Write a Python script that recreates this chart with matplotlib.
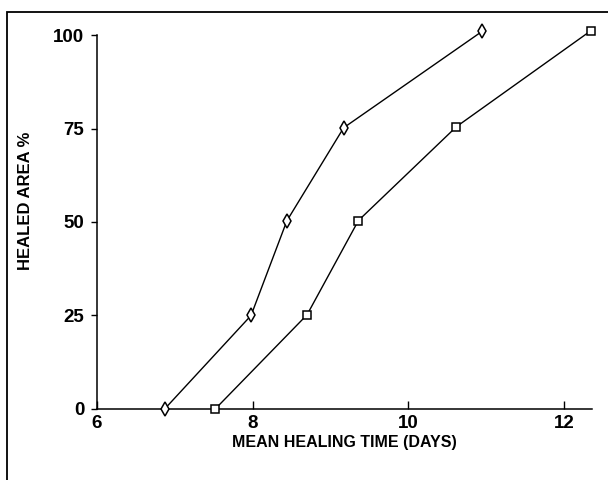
import matplotlib.pyplot as plt
from matplotlib.patches import Rectangle

# healing time (days) vs healed area (%)
days_diamond = [6.87, 7.98, 8.44, 9.17, 10.95]
area_diamond = [0, 25, 50.3, 75.2, 101]
days_square = [7.52, 8.70, 9.36, 10.62, 12.35]
area_square = [0, 25.2, 50.4, 75.5, 101.2]

x_ticks = [6, 8, 10, 12]
y_ticks = [0, 25, 50, 75, 100]

plt.rcParams['font.family'] = ['Liberation Sans', 'DejaVu Sans']
plt.rcParams['font.weight'] = 'bold'

fig = plt.figure(figsize=(6.08, 4.8), dpi=100)
ax = fig.add_axes([0.1595, 0.148, 0.814, 0.779])

# scanned frame around the figure
fig.patches.append(Rectangle((0.012, -0.1), 1.1, 1.075, transform=fig.transFigure,
                             fill=False, edgecolor='black', linewidth=1.3))

ax.plot(days_diamond, area_diamond, color='black', linewidth=1,
        marker='d', markersize=7, markerfacecolor='white', markeredgecolor='black',
        markeredgewidth=1.1, clip_on=False, zorder=3)
ax.plot(days_square, area_square, color='black', linewidth=1,
        marker='s', markersize=5.5, markerfacecolor='white', markeredgecolor='black',
        markeredgewidth=1.1, clip_on=False, zorder=3)

ax.set_xlim(6, 12.36)
ax.set_ylim(0, 100)
ax.set_xticks(x_ticks)
ax.set_yticks(y_ticks)
ax.spines['top'].set_visible(False)
ax.spines['right'].set_visible(False)
ax.spines['left'].set_linewidth(1.1)
ax.spines['bottom'].set_linewidth(1.1)
ax.tick_params(axis='x', direction='in', length=6, width=1, pad=4, labelsize=13.5)
ax.tick_params(axis='y', direction='out', length=4, width=1, pad=5, labelsize=13.5)

ax.set_xlabel('MEAN HEALING TIME (DAYS)', fontsize=11.5, fontweight='bold')
ax.set_ylabel('HEALED AREA %', fontsize=12, fontweight='bold')
ax.xaxis.set_label_coords(0.5, -0.07)
ax.yaxis.set_label_coords(-0.129, 0.556)

fig.savefig('out.png', dpi=100)
